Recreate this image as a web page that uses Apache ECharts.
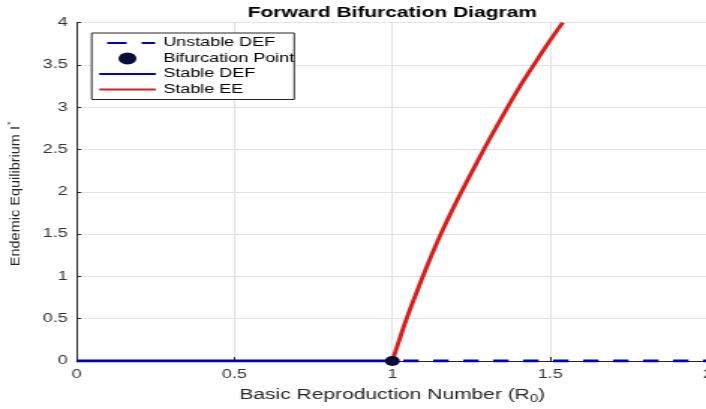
<!DOCTYPE html>
<html>
<head>
<meta charset="utf-8">
<script src="https://cdn.jsdelivr.net/npm/echarts@6/dist/echarts.min.js"></script>
<style>
  html, body { margin: 0; padding: 0; background: #fff; overflow: hidden; }
  /* figure is laid out narrow and widened horizontally, like the exported image */
  #chart { width: 471px; height: 409px; transform: scaleX(1.49894); transform-origin: 0 0; }
</style>
</head>
<body>
<div id="chart"></div>
<script>
// Endemic equilibrium branch (Stable EE), read as R0 -> I*
const eeR0 = [1, 1.025, 1.05, 1.075, 1.1, 1.15, 1.2, 1.25, 1.3, 1.35, 1.4, 1.45, 1.5, 1.54];
const eeI  = [0, 0.28, 0.55, 0.79, 1.03, 1.47, 1.86, 2.22, 2.57, 2.90, 3.22, 3.51, 3.79, 4.0];

// Disease-free equilibrium: stable below R0 = 1, unstable above
const stableDefR0   = [0, 1];
const stableDefI    = [0, 0];
const unstableDefR0 = [1, 2];
const unstableDefI  = [0, 0];

// Transcritical point
const bifR0 = [1];
const bifI  = [0];

// Axis ticks
const xTicks = ['0', '0.5', '1', '1.5', '2'];
const yTicks = ['0', '0.5', '1', '1.5', '2', '2.5', '3', '3.5', '4'];

const pairs = (xs, ys) => xs.map((x, i) => [x, ys[i]]);

const FONT = 'Liberation Sans, Arial, sans-serif';
const BLUE = '#0000c8';
const RED = '#d61f1f';
const SX = 1.49894;

const gridLeft = 51.17, gridTop = 22.7, gridW = 421.1, gridH = 338.3;

const chart = echarts.init(document.getElementById('chart'));

// line entries in the legend show only their stroke
const lineOnly = { opacity: 0 };

chart.setOption({
  backgroundColor: '#fff',
  animation: false,
  title: {
    text: 'Forward Bifurcation Diagram',
    left: gridLeft + gridW / 2,
    textAlign: 'center',
    top: 6,
    padding: 0,
    textStyle: { fontFamily: FONT, fontSize: 14, fontWeight: 'bold', color: '#000' }
  },
  legend: {
    orient: 'vertical',
    left: 61.2,
    top: 33,
    itemWidth: 37.7,
    itemHeight: 12,
    itemGap: 3.5,
    padding: [4, 0, 4, 4],
    backgroundColor: '#fff',
    borderColor: '#262626',
    borderWidth: 1,
    borderRadius: 0,
    textStyle: { fontFamily: FONT, fontSize: 12, color: '#000' },
    data: [
      { name: 'Unstable DEF', lineStyle: { type: [9, 9, 13, 10] }, itemStyle: lineOnly },
      { name: 'Bifurcation Point', icon: 'circle' },
      { name: 'Stable DEF', itemStyle: lineOnly },
      { name: 'Stable EE', itemStyle: lineOnly }
    ]
  },
  grid: {
    left: gridLeft, top: gridTop, width: gridW, height: gridH,
    containLabel: false,
    outerBoundsMode: 'none'
  },
  xAxis: {
    type: 'value',
    min: 0, max: 2, interval: 0.5,
    axisLine: { show: true, onZero: false, lineStyle: { color: '#262626', width: 1 } },
    axisTick: { show: true, inside: true, length: 4, lineStyle: { color: '#262626' } },
    axisLabel: {
      margin: 8, fontFamily: FONT, fontSize: 12, color: '#333',
      showMaxLabel: true,
      formatter: (v) => xTicks[Math.round(v / 0.5)]
    },
    splitLine: { show: true, lineStyle: { color: '#e3e3e3', width: 1 } },
    name: '{t|Basic Reproduction Number (R}{s|0}{t|)}',
    nameLocation: 'middle',
    nameGap: 25,
    nameTextStyle: {
      fontFamily: FONT, fontSize: 14, color: '#262626',
      rich: {
        t: { fontFamily: FONT, fontSize: 14, color: '#262626' },
        s: { fontFamily: FONT, fontSize: 10, color: '#262626', padding: [8, 0, 0, 0] }
      }
    }
  },
  yAxis: {
    type: 'value',
    min: 0, max: 4, interval: 0.5,
    axisLine: { show: true, onZero: false, lineStyle: { color: '#262626', width: 1 } },
    axisTick: { show: true, inside: true, length: 3, lineStyle: { color: '#262626' } },
    axisLabel: {
      margin: 6, fontFamily: FONT, fontSize: 12, color: '#333',
      formatter: (v) => yTicks[Math.round(v / 0.5)]
    },
    splitLine: { show: true, lineStyle: { color: '#e3e3e3', width: 1 } }
  },
  // vertical axis title, counter-scaled so its glyphs keep their shape after the widening
  graphic: [{
    type: 'text',
    x: 15.3 / SX,
    y: gridTop + gridH / 2 + 2,
    rotation: Math.PI / 2,
    scaleY: 1 / SX,
    style: {
      text: '{a|Endemic Equilibrium I}{s|*}',
      align: 'center',
      verticalAlign: 'middle',
      rich: {
        a: { fontFamily: FONT, fontSize: 14.5, fill: '#262626', color: '#262626' },
        s: { fontFamily: FONT, fontSize: 9, fill: '#262626', color: '#262626', padding: [0, 0, 8, 1] }
      }
    }
  }],
  series: [
    {
      name: 'Unstable DEF',
      type: 'line',
      data: pairs(unstableDefR0, unstableDefI),
      symbol: 'none',
      lineStyle: { color: BLUE, width: 3, type: [10.3, 9.7], dashOffset: 12.7 },
      itemStyle: { color: BLUE },
      z: 3
    },
    {
      name: 'Bifurcation Point',
      type: 'scatter',
      data: pairs(bifR0, bifI),
      symbol: 'circle',
      symbolSize: 10,
      itemStyle: { color: '#0b0b3a', opacity: 1 },
      z: 6
    },
    {
      name: 'Stable DEF',
      type: 'line',
      data: pairs(stableDefR0, stableDefI),
      symbol: 'none',
      lineStyle: { color: BLUE, width: 3 },
      itemStyle: { color: BLUE },
      z: 3
    },
    {
      name: 'Stable EE',
      type: 'line',
      data: pairs(eeR0, eeI),
      symbol: 'none',
      smooth: 0.4,
      lineStyle: { color: RED, width: 3 },
      itemStyle: { color: RED },
      z: 4
    }
  ]
});
</script>
</body>
</html>
